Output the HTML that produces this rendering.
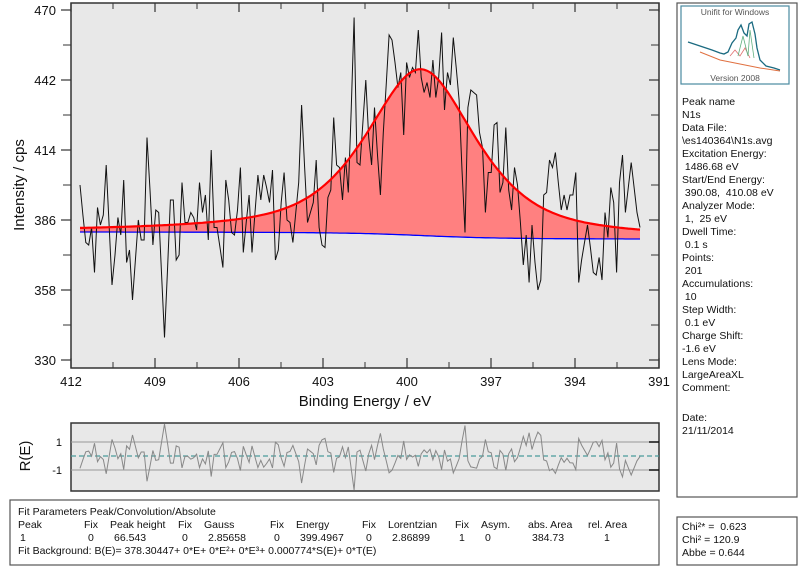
<!DOCTYPE html>
<html><head><meta charset="utf-8"><style>
body{margin:0;background:#fff;font-family:"Liberation Sans",sans-serif;}
svg{display:block}
text{white-space:pre}
</style></head><body>
<svg id="chart" width="800" height="572" viewBox="0 0 800 572" xmlns="http://www.w3.org/2000/svg" font-family="Liberation Sans, sans-serif" xml:space="preserve">
<rect x="0" y="0" width="800" height="572" fill="#fff"/>
<rect x="71" y="3" width="588" height="365" fill="#e8e8e8" stroke="#333" stroke-width="1.5"/>
<g id="mainTicks"></g>
<path id="fitFill" fill="#ff8080" stroke="none"/>
<polyline id="bgLine" fill="none" stroke="#0000ff" stroke-width="1.3"/>
<polyline id="dataLine" fill="none" stroke="#111" stroke-width="1"/>
<polyline id="fitLine" fill="none" stroke="#ff0000" stroke-width="2.2"/>
<text x="24" y="185" font-size="15" text-anchor="middle" transform="rotate(-90 24 185)" fill="#111">Intensity / cps</text>
<text x="365" y="406" font-size="15" text-anchor="middle" fill="#111">Binding Energy / eV</text>

<rect x="71" y="423" width="588" height="68" fill="#e8e8e8" stroke="#333" stroke-width="1.5"/>
<g id="resGrid"></g>
<polyline id="resLine" fill="none" stroke="#888" stroke-width="1"/>
<text x="30" y="456" font-size="15" text-anchor="middle" transform="rotate(-90 30 456)" fill="#111">R(E)</text>

<rect x="10" y="500" width="649" height="65" fill="#fff" stroke="#555" stroke-width="1.2"/>
<g font-size="10.5" fill="#111">
<text x="18" y="515">Fit Parameters Peak/Convolution/Absolute</text>
<text x="18" y="528">Peak</text><text x="84" y="528">Fix</text><text x="110" y="528">Peak height</text><text x="178" y="528">Fix</text><text x="204" y="528">Gauss</text><text x="270" y="528">Fix</text><text x="296" y="528">Energy</text><text x="362" y="528">Fix</text><text x="388" y="528">Lorentzian</text><text x="455" y="528">Fix</text><text x="481" y="528">Asym.</text><text x="528" y="528">abs. Area</text><text x="588" y="528">rel. Area</text>
<text x="20" y="541">1</text><text x="88" y="541">0</text><text x="114" y="541">66.543</text><text x="182" y="541">0</text><text x="208" y="541">2.85658</text><text x="274" y="541">0</text><text x="300" y="541">399.4967</text><text x="366" y="541">0</text><text x="392" y="541">2.86899</text><text x="459" y="541">1</text><text x="485" y="541">0</text><text x="532" y="541">384.73</text><text x="604" y="541">1</text>
<text x="18" y="554">Fit Background: B(E)= 378.30447+ 0*E+ 0*E²+ 0*E³+ 0.000774*S(E)+ 0*T(E)</text>
</g>

<rect x="677" y="3" width="120" height="494" fill="#fff" stroke="#555" stroke-width="1.2"/>
<g>
<rect x="681" y="6" width="108" height="78" fill="#fff" stroke="#4a8aa0" stroke-width="1.2"/>
<text x="735" y="15" font-size="8.5" text-anchor="middle" fill="#555">Unifit for Windows</text>
<text x="735" y="81" font-size="8.5" text-anchor="middle" fill="#555">Version 2008</text>
<polyline points="688,42 700,46 712,50 720,53 724,54 728,52 732,43 736,38 738,30 741,25 744,33 747,36 749,24 752,22 755,34 757,48 760,60 766,66 774,68 780,70" fill="none" stroke="#1a6a80" stroke-width="1.3"/>
<polyline points="700,52 720,60 740,64 760,68 780,71" fill="none" stroke="#e07040" stroke-width="1"/>
<polyline points="730,56 735,50 740,56 745,48 750,58" fill="none" stroke="#e07070" stroke-width="0.8"/>
<polyline points="738,56 743,36 748,56 750,30 754,58" fill="none" stroke="#60b080" stroke-width="0.8"/>
</g>
<g font-size="10.5" fill="#111">
<text x="682" y="105">Peak name</text><text x="682" y="118">N1s</text>
<text x="682" y="131">Data File:</text><text x="682" y="144">\es140364\N1s.avg</text>
<text x="682" y="157">Excitation Energy:</text><text x="682" y="170"> 1486.68 eV</text>
<text x="682" y="183">Start/End Energy:</text><text x="682" y="196"> 390.08,  410.08 eV</text>
<text x="682" y="209">Analyzer Mode:</text><text x="682" y="222"> 1,  25 eV</text>
<text x="682" y="235">Dwell Time:</text><text x="682" y="248"> 0.1 s</text>
<text x="682" y="261">Points:</text><text x="682" y="274"> 201</text>
<text x="682" y="287">Accumulations:</text><text x="682" y="300"> 10</text>
<text x="682" y="313">Step Width:</text><text x="682" y="326"> 0.1 eV</text>
<text x="682" y="339">Charge Shift:</text><text x="682" y="352">-1.6 eV</text>
<text x="682" y="365">Lens Mode:</text><text x="682" y="378">LargeAreaXL</text>
<text x="682" y="391">Comment:</text>
<text x="682" y="421">Date:</text><text x="682" y="434">21/11/2014</text>
</g>
<rect x="677" y="517" width="120" height="48" fill="#fff" stroke="#555" stroke-width="1.2"/>
<g font-size="10.5" fill="#111">
<text x="682" y="530">Chi²* =  0.623</text><text x="682" y="543">Chi² = 120.9</text><text x="682" y="556">Abbe = 0.644</text>
</g>
</svg>
<script>
const intensity = [400,388,377,376,383,365,391,384,388,408,384,360,372,387,380,402,369,374,354,370,386,378,378,419,398,376,390,389,364,339,366,394,394,370,372,401,385,385,389,387,382,401,389,396,378,414,383,383,375,367,402,
394,381,380,390,407,373,385,396,373,389,404,394,404,399,393,406,370,374,393,405,386,385,377,389,401,432,408,385,389,393,410,383,376,375,395,398,427,408,407,394,411,397,430,467,409,408,425,442,
419,408,431,412,396,421,440,460,458,449,439,445,420,449,443,447,445,462,443,437,441,435,450,435,443,461,430,445,440,459,447,434,406,381,431,438,437,436,421,415,389,405,405,424,425,397,401,423,398,390,
407,400,385,368,380,361,384,369,358,362,396,397,410,407,413,401,390,396,390,396,396,405,361,370,377,384,375,365,364,371,362,389,379,399,393,365,401,412,389,399,409,399,389,383];
const energyRange = [411.68, 391.68];
const peakParams = [66.543, 399.5, 2.85658, 2.86899]; // height, energy, gauss FWHM, lorentz FWHM
const bgParams = [378.4, 381.2]; // low-BE and high-BE background level
const yTicks = [330,358,386,414,442,470];
const xTicks = [412,409,406,403,400,397,394,391];
const resTicks = [1,-1];

const NS="http://www.w3.org/2000/svg";
const X = e => 71 + (412 - e) * 28;
const Y = v => 360 - (v - 330) * 2.5;
const RY = r => 456 - r * 14;
function mk(tag, attrs, parent){const el=document.createElementNS(NS,tag);for(const k in attrs)el.setAttribute(k,attrs[k]);parent.appendChild(el);return el;}

const N = intensity.length;
const energies = intensity.map((_, i) => energyRange[0] + (energyRange[1]-energyRange[0]) * i / (N-1));
const [h, ec, fG, fL] = peakParams;
const f = 0.5346*fL + Math.sqrt(0.2166*fL*fL + fG*fG);
const r = fL/f, eta = 1.36603*r - 0.47719*r*r + 0.11116*r*r*r;
const peak = e => { const d=e-ec; const g=Math.exp(-4*Math.LN2*d*d/(f*f)); const l=1/(1+4*d*d/(f*f)); return h*(eta*l+(1-eta)*g); };
const pk = energies.map(peak);
const cum = []; let s = 0;
for (let i = N-1; i >= 0; i--) { s += pk[i]; cum[i] = s; }
const bg = energies.map((e,i) => bgParams[0] + (bgParams[1]-bgParams[0]) * cum[i] / s);
const fit = energies.map((e,i) => bg[i] + pk[i]);

document.getElementById('dataLine').setAttribute('points', intensity.map((v,i)=>X(energies[i]).toFixed(1)+','+Y(v).toFixed(1)).join(' '));
document.getElementById('fitLine').setAttribute('points', fit.map((v,i)=>X(energies[i]).toFixed(1)+','+Y(v).toFixed(1)).join(' '));
document.getElementById('bgLine').setAttribute('points', bg.map((v,i)=>X(energies[i]).toFixed(1)+','+Y(v).toFixed(1)).join(' '));
let d = 'M' + fit.map((v,i)=>X(energies[i]).toFixed(1)+','+Y(v).toFixed(1)).join(' L');
for (let i=N-1;i>=0;i--) d += ' L'+X(energies[i]).toFixed(1)+','+Y(bg[i]).toFixed(1);
document.getElementById('fitFill').setAttribute('d', d+' Z');

const resid = intensity.map((v,i)=>(fit[i]-v)/Math.sqrt(fit[i]));
document.getElementById('resLine').setAttribute('points', resid.map((v,i)=>X(energies[i]).toFixed(1)+','+Math.max(424,Math.min(490,RY(v))).toFixed(1)).join(' '));

const g = document.getElementById('mainTicks');
yTicks.forEach(v => {
  const t = mk('line',{x1:61,x2:71,y1:Y(v),y2:Y(v),stroke:'#333','stroke-width':1.2},g);
  
  
  const t2 = mk('line',{x1:649,x2:659,y1:Y(v),y2:Y(v),stroke:'#333','stroke-width':1.2},g);
  
  
  const lb = mk('text',{x:56,y:Y(v)+5,'font-size':13,'text-anchor':'end',fill:'#111'},g);
  lb.textContent = v;
  
  
  if (v < 470) {
    const m = mk('line',{x1:63,x2:71,y1:Y(v+14),y2:Y(v+14),stroke:'#333','stroke-width':1},g);
    
    
    const m2 = mk('line',{x1:651,x2:659,y1:Y(v+14),y2:Y(v+14),stroke:'#333','stroke-width':1},g);
    
    
  }
});
xTicks.forEach(e => {
  const t = mk('line',{x1:X(e),x2:X(e),y1:358,y2:368,stroke:'#333','stroke-width':1.2},g);
  
  
  const tt = mk('line',{x1:X(e),x2:X(e),y1:3,y2:12,stroke:'#333','stroke-width':1.2},g);
  
  
  const lb = mk('text',{x:X(e),y:386,'font-size':13,'text-anchor':'middle',fill:'#111'},g);
  lb.textContent = e;
  
  
  if (e > 391) {
    const m = mk('line',{x1:X(e-1.5),x2:X(e-1.5),y1:362,y2:368,stroke:'#333','stroke-width':1},g);
    
    
    const mt = mk('line',{x1:X(e-1.5),x2:X(e-1.5),y1:3,y2:9,stroke:'#333','stroke-width':1},g);
    
    
  }
});
const rg = document.getElementById('resGrid');
resTicks.forEach(v => {
  const l = mk('line',{x1:71,x2:659,y1:RY(v),y2:RY(v),stroke:'#999','stroke-width':1},rg);
  
  
  const t = mk('line',{x1:649,x2:659,y1:RY(v),y2:RY(v),stroke:'#111','stroke-width':1.5},rg);
  
  
  const lb = mk('text',{x:62,y:RY(v)+4,'font-size':11,'text-anchor':'end',fill:'#111'},rg);
  lb.textContent = v;
  
  
});
const z = mk('line',{x1:71,x2:659,y1:RY(0),y2:RY(0),stroke:'#4a9a9a','stroke-width':1.2,'stroke-dasharray':'5,3'},rg);


</script>
</body></html>
